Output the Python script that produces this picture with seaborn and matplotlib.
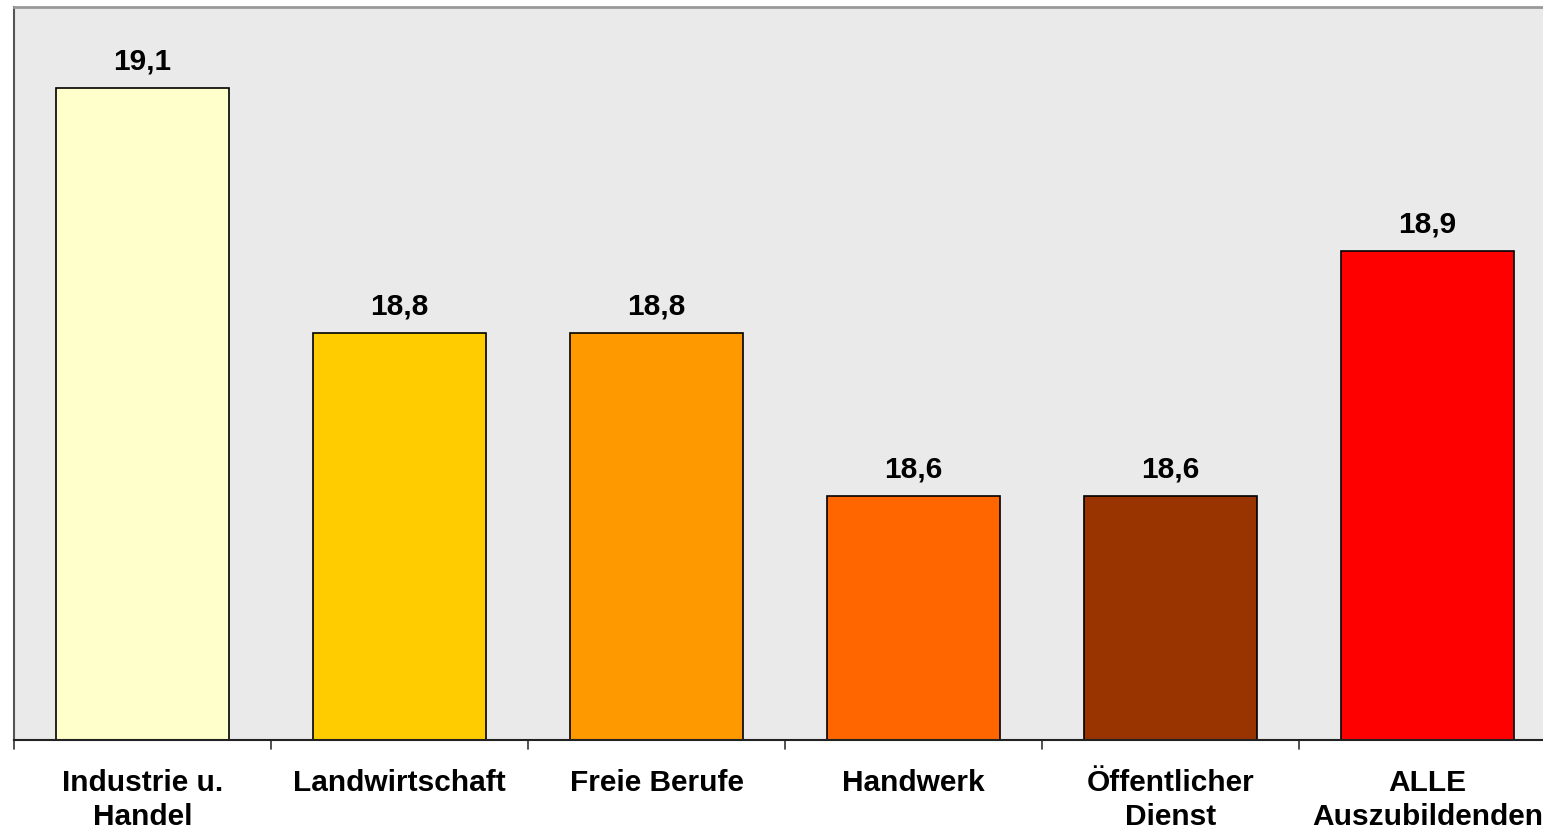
import matplotlib
matplotlib.use("Agg")
import matplotlib.pyplot as plt
import seaborn as sns
import pandas as pd

categories = ["Industrie u.\nHandel", "Landwirtschaft", "Freie Berufe", "Handwerk",
              "Öffentlicher\nDienst", "ALLE\nAuszubildenden"]
values = [19.1, 18.8, 18.8, 18.6, 18.6, 18.9]
colors = ["#FFFFCC", "#FFCC00", "#FF9900", "#FF6600", "#993300", "#FF0000"]

sns.set_style("white")
plt.rcParams["font.family"] = ["Liberation Sans", "DejaVu Sans"]
plt.rcParams["text.color"] = "black"
plt.rcParams["xtick.color"] = "black"

df = pd.DataFrame({"cat": categories, "val": values})
fig = plt.figure(figsize=(15.43, 8.31), dpi=100)
ax = fig.add_axes([14 / 1543, 1 - 740 / 831, 1542 / 1543, 733 / 831])
sns.barplot(data=df, x="cat", y="val", hue="cat", palette=colors, dodge=False,
            width=0.67, edgecolor="black", linewidth=1.2, legend=False, ax=ax,
            saturation=1)
ax.set_facecolor("#EAEAEA")
ax.set_ylim(18.3, 19.2)
ax.set_xlim(-0.5, 5.5)
ax.set_yticks([])
ax.set_xlabel("")
ax.set_ylabel("")
for c in ax.containers:
    ax.bar_label(c, labels=[f"{v:.1f}".replace(".", ",") for v in c.datavalues],
                 padding=9, fontsize=21.5, fontweight="bold", color="black")
ax.set_xticks(range(len(categories)))
ax.set_xticklabels(categories, fontsize=21.5, fontweight="bold", linespacing=1.25,
                   color="black")
ax.tick_params(axis="x", length=0, pad=21)
for b in [i - 0.5 for i in range(len(categories))]:
    ax.plot([b, b], [0, -0.012], transform=ax.get_xaxis_transform(), color="#333333",
            lw=1.2, clip_on=False)
ax.spines["right"].set_visible(False)
ax.spines["top"].set_color("#999999")
ax.spines["top"].set_linewidth(2)
ax.spines["left"].set_color("#555555")
ax.spines["left"].set_linewidth(1.5)
ax.spines["bottom"].set_color("#222222")
ax.spines["bottom"].set_linewidth(1.5)
fig.savefig("out.png", dpi=100)
